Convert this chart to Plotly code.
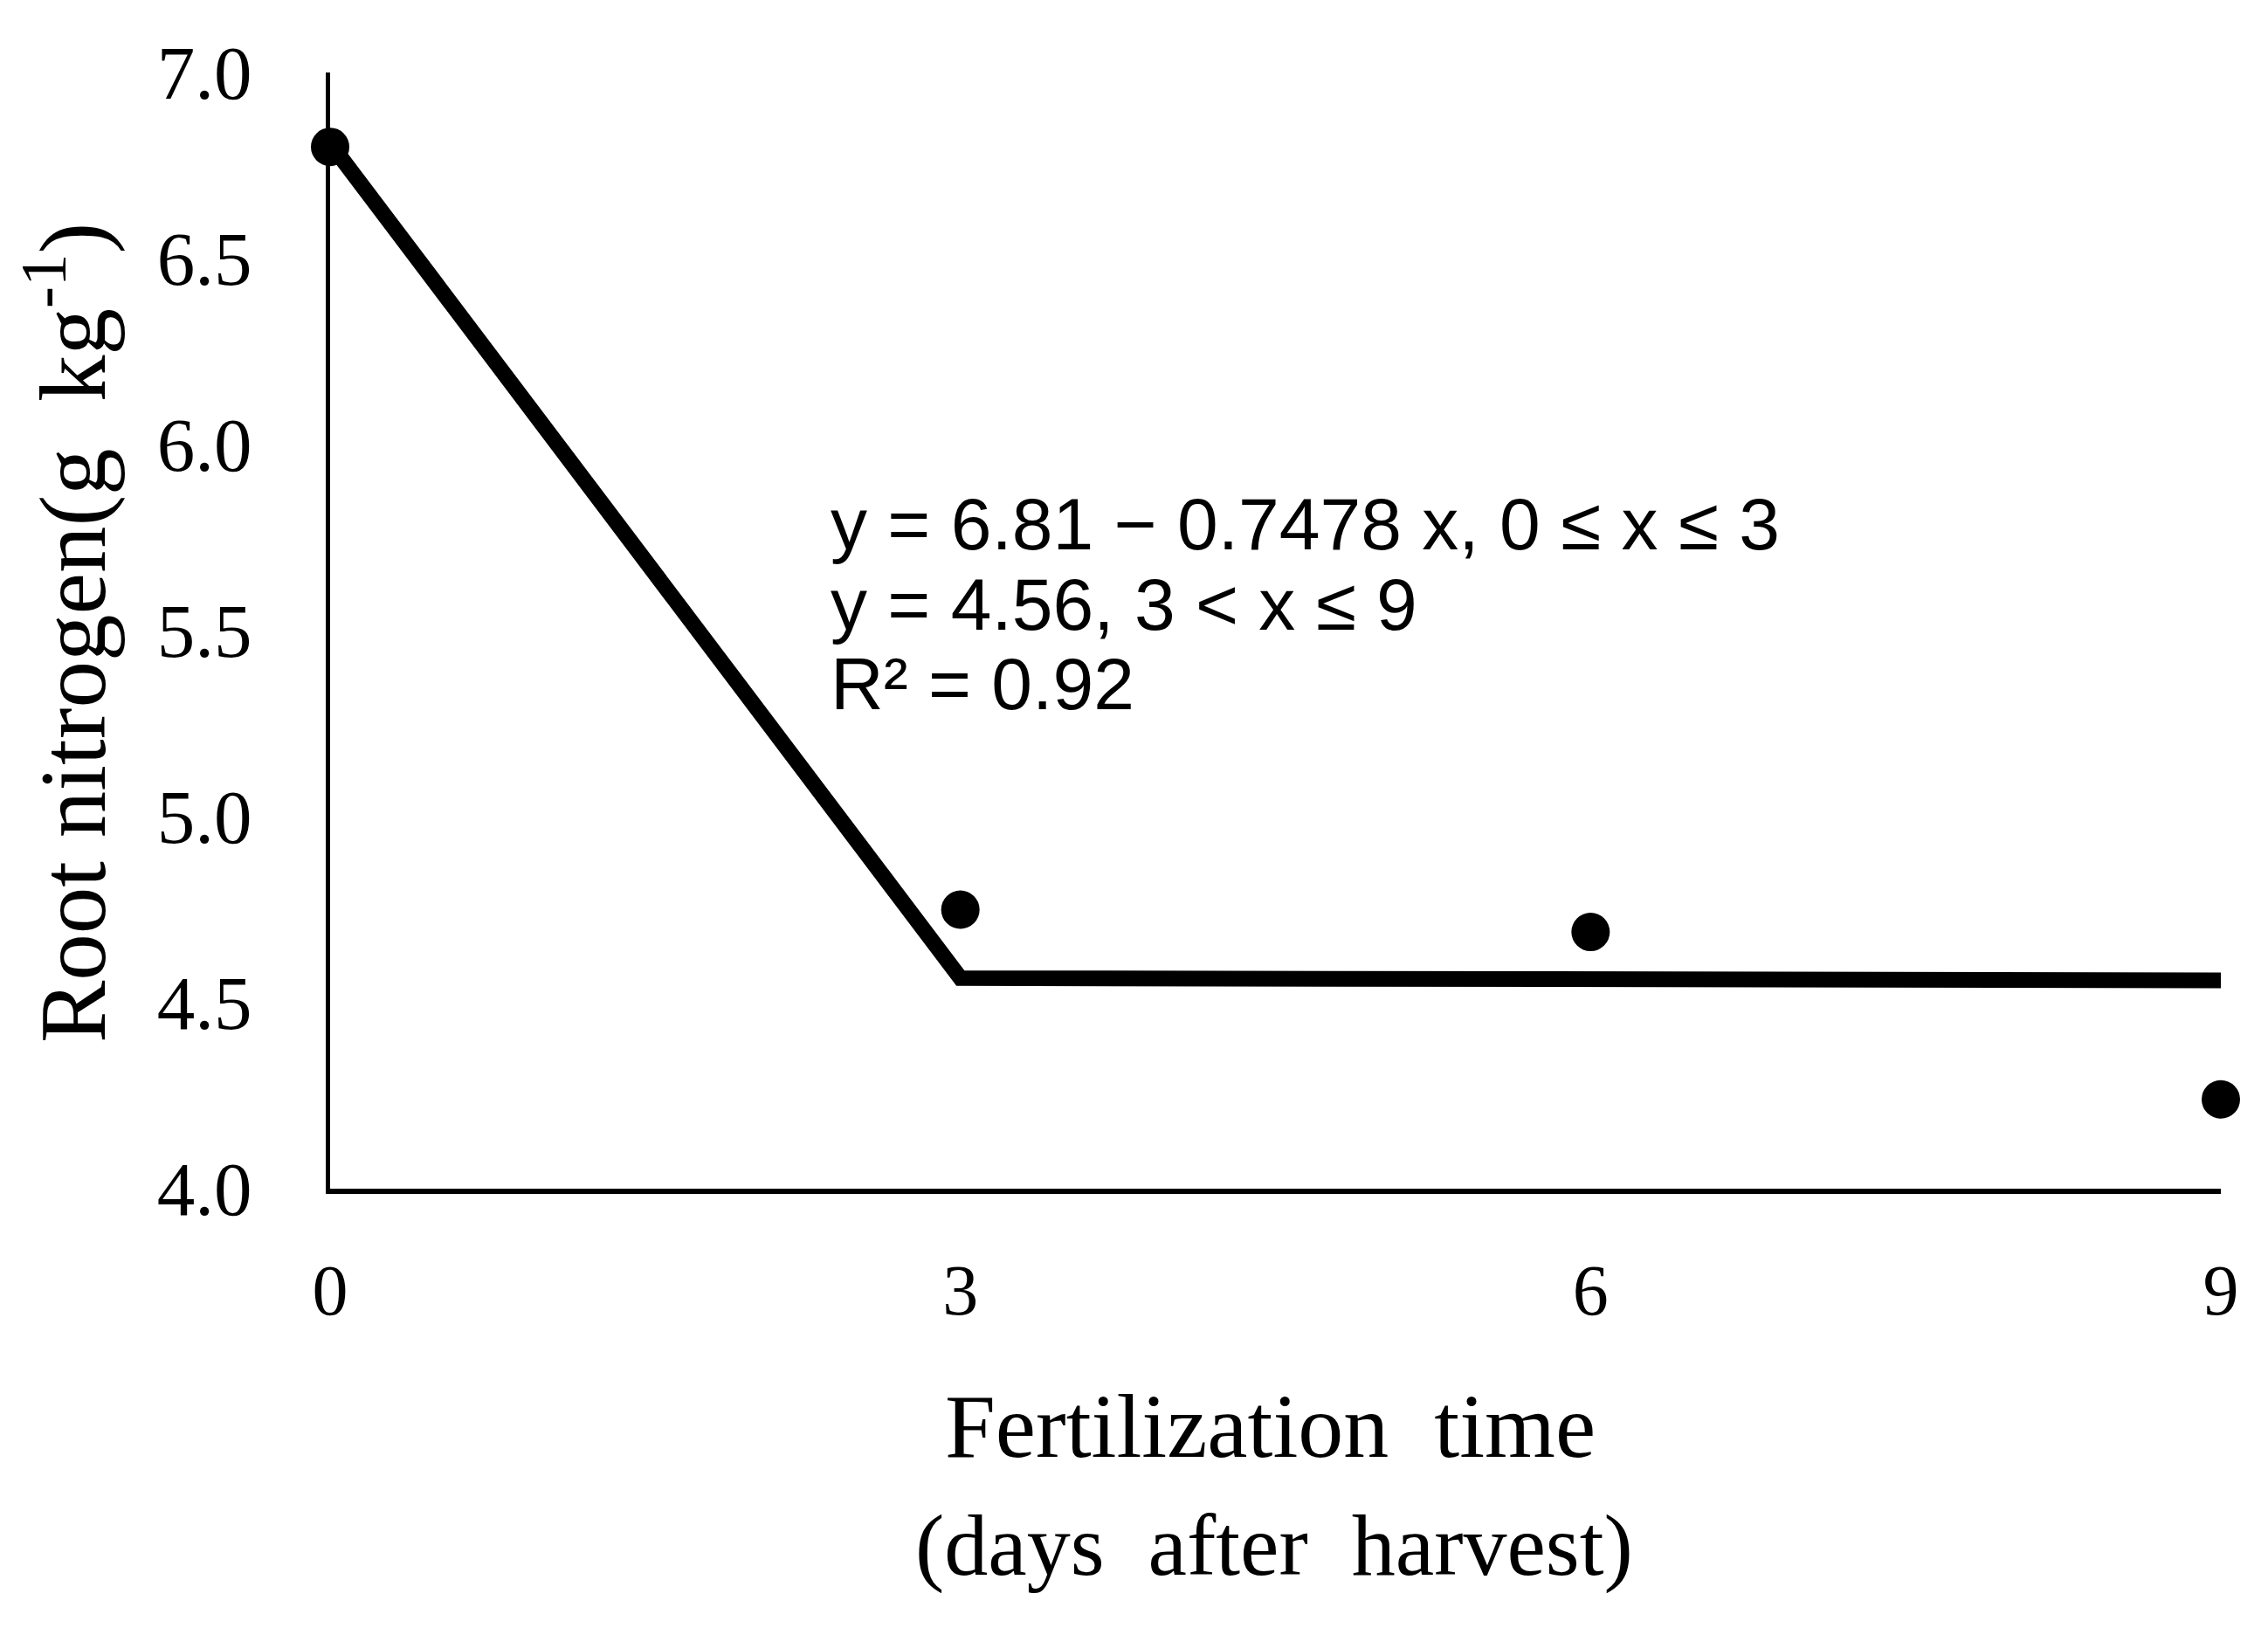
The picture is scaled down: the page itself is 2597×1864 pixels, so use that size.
import plotly.graph_objects as go

# Data
days = [0, 3, 6, 9]
root_n = [6.80, 4.75, 4.69, 4.24]

fit_x = [0, 3, 9]
fit_y = [6.81, 4.566, 4.56]

y_ticks = [4.0, 4.5, 5.0, 5.5, 6.0, 6.5, 7.0]
x_ticks = [0, 3, 6, 9]

eq_lines = [
    "y = 6.81 \u2212 0.7478 x, 0 \u2264 x \u2264 3",
    "y = 4.56, 3 < x \u2264 9",
    "R\u00b2 = 0.92",
]

OFF = 8  # default page body margin
W, H = 2597 - 2 * OFF, 1864 - 2 * OFF
# plot area in page pixels: x 378..2543, y 83..1361
L, T = 378 - OFF, 83 - OFF
R = W - (2543 - OFF)
B = H - (1361 - OFF)
PW, PH = W - L - R, H - T - B


def px(x):
    return (x - OFF - L) / PW


def py(y):
    return (H - B - (y - OFF)) / PH


serif = "Liberation Serif"
sans = "Liberation Sans"

fig = go.Figure()
fig.add_trace(go.Scatter(x=fit_x, y=fit_y, mode="lines",
                         line=dict(color="black", width=18),
                         cliponaxis=False, showlegend=False))
fig.add_trace(go.Scatter(x=days, y=root_n, mode="markers",
                         marker=dict(color="black", size=44),
                         cliponaxis=False, showlegend=False))

fig.update_layout(
    width=W, height=H,
    margin=dict(l=L, r=R, t=T, b=B),
    paper_bgcolor="white", plot_bgcolor="white",
    showlegend=False,
)
fig.update_xaxes(range=[0, 9], tickvals=x_ticks, ticktext=[str(v) for v in x_ticks],
                 showgrid=False, zeroline=False, showline=True, linecolor="black",
                 linewidth=6, ticks="", ticklabelstandoff=40,
                 tickfont=dict(family=serif, size=82, color="black"))
fig.update_yaxes(range=[4, 7], tickvals=y_ticks, ticktext=[f"{v:.1f}" for v in y_ticks],
                 showgrid=False, zeroline=False, showline=True, linecolor="black",
                 linewidth=5, ticks="", ticklabelstandoff=67,
                 tickfont=dict(family=serif, size=87, color="black"))

ann = []
for txt, yc in zip(eq_lines, [600, 692, 783]):
    ann.append(dict(text=txt, x=px(949), y=py(yc), xref="paper", yref="paper",
                    xanchor="left", yanchor="middle", showarrow=False,
                    font=dict(family=sans, size=84, color="black")))
ann.append(dict(text="Fertilization\u00a0\u00a0time", x=px(1454), y=py(1632),
                xref="paper", yref="paper", xanchor="center", yanchor="middle",
                showarrow=False, font=dict(family=serif, size=104, color="black")))
ann.append(dict(text="(days\u00a0\u00a0after\u00a0\u00a0harvest)", x=px(1459), y=py(1769),
                xref="paper", yref="paper", xanchor="center", yanchor="middle",
                showarrow=False, font=dict(family=serif, size=100, color="black")))
ann.append(dict(text="Root nitrogen(g\u00a0\u00a0kg<sup>-1</sup>)", x=px(76), y=py(725),
                xref="paper", yref="paper", xanchor="center", yanchor="middle",
                textangle=-90, showarrow=False,
                font=dict(family=serif, size=107, color="black")))
fig.update_layout(annotations=ann)

fig.write_html("out.html")
